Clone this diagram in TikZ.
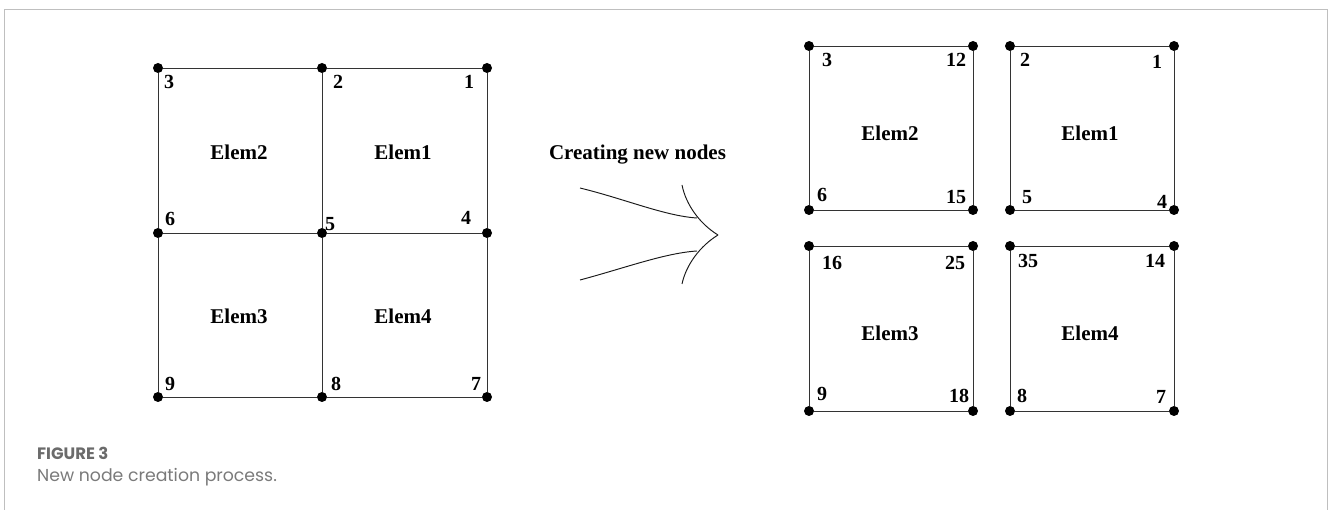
\documentclass[tikz,border=0pt]{standalone}
\usepackage{fontspec}
\setmainfont{Liberation Serif}
\newfontfamily\capfont{Poppins}
\begin{document}
\begin{tikzpicture}[x=1pt,y=-1pt,
  dot/.style={circle,fill=black,inner sep=0pt,minimum size=10pt},
  edge/.style={draw=black!80,line width=0.95pt},
  num/.style={font=\fontsize{20}{20}\selectfont\bfseries,inner sep=0pt},
  elem/.style={font=\fontsize{21}{21}\selectfont\bfseries,inner sep=0pt},
  curve/.style={draw=black!90,line width=0.95pt},
  frameline/.style={draw=black!25,line width=1pt}]
\useasboundingbox (0,0) rectangle (1328,510);
% frame
\coordinate (fbl) at (4,510);
\coordinate (ftl) at (4,9.5);
\coordinate (ftr) at (1327,9.5);
\coordinate (fbr) at (1327,510);
\draw[frameline] (fbl) -- (ftl) -- (ftr) -- (fbr);
% caption
\node[anchor=base west,inner sep=0pt,text=black!58,font=\capfont\fontsize{16.5}{17}\selectfont\bfseries] (figlab) at (37,459) {FIGURE 3};
\node[anchor=base west,inner sep=0pt,text=black!52,font=\capfont\fontsize{17.3}{18}\selectfont] (figcap) at (37,481) {New node creation process.};
% left mesh
\node[dot] (L1) at (487,68) {};
\node[dot] (L2) at (322,68) {};
\node[dot] (L3) at (158,68) {};
\node[dot] (L4) at (487,233) {};
\node[dot] (L5) at (322,233) {};
\node[dot] (L6) at (158,233) {};
\node[dot] (L7) at (487,397) {};
\node[dot] (L8) at (322,397) {};
\node[dot] (L9) at (158,397) {};
\draw[edge] (L3) -- (L2) (L2) -- (L1);
\draw[edge] (L6) -- (L5) (L5) -- (L4);
\draw[edge] (L9) -- (L8) (L8) -- (L7);
\draw[edge] (L3) -- (L6) (L6) -- (L9);
\draw[edge] (L2) -- (L5) (L5) -- (L8);
\draw[edge] (L1) -- (L4) (L4) -- (L7);
\node[num] (n3) at (169,82) {3};
\node[num] (n2) at (338,82) {2};
\node[num] (n1) at (469,82) {1};
\node[num] (n6) at (170,219) {6};
\node[num] (n5) at (330,224) {5};
\node[num] (n4) at (466,218) {4};
\node[num] (n9) at (170,384) {9};
\node[num] (n8) at (336,384) {8};
\node[num] (n7) at (476,384) {7};
\node[elem] (e2) at (239,152) {Elem2};
\node[elem] (e1) at (403,152) {Elem1};
\node[elem] (e3) at (239,316) {Elem3};
\node[elem] (e4) at (403,316) {Elem4};
% arrow
\node[elem,anchor=base] (title) at (637.5,160) {Creating new nodes};
\coordinate (ua) at (580,188);
\coordinate (ub) at (697,218);
\coordinate (la) at (580,280);
\coordinate (lb) at (697,251);
\coordinate (ht) at (682,185);
\coordinate (tip) at (718,235);
\coordinate (hb) at (682,284);
\draw[curve] (ua) .. controls (625,199) and (665,216) .. (ub);
\draw[curve] (la) .. controls (625,268) and (665,253) .. (lb);
\draw[curve] (ht) .. controls (686,205) and (700,224) .. (tip);
\draw[curve] (tip) .. controls (700,246) and (686,265) .. (hb);
% right: box Elem2
\node[dot] (A1) at (809,46) {};
\node[dot] (A2) at (973,46) {};
\node[dot] (A3) at (973,210) {};
\node[dot] (A4) at (809,210) {};
\draw[edge] (A1) -- (A2) (A2) -- (A3) (A3) -- (A4) (A4) -- (A1);
% box Elem1
\node[dot] (B1) at (1010,46) {};
\node[dot] (B2) at (1174,46) {};
\node[dot] (B3) at (1174,210) {};
\node[dot] (B4) at (1010,210) {};
\draw[edge] (B1) -- (B2) (B2) -- (B3) (B3) -- (B4) (B4) -- (B1);
% box Elem3
\node[dot] (C1) at (809,246) {};
\node[dot] (C2) at (973,246) {};
\node[dot] (C3) at (973,411) {};
\node[dot] (C4) at (809,411) {};
\draw[edge] (C1) -- (C2) (C2) -- (C3) (C3) -- (C4) (C4) -- (C1);
% box Elem4
\node[dot] (D1) at (1010,246) {};
\node[dot] (D2) at (1174,246) {};
\node[dot] (D3) at (1174,411) {};
\node[dot] (D4) at (1010,411) {};
\draw[edge] (D1) -- (D2) (D2) -- (D3) (D3) -- (D4) (D4) -- (D1);
% right labels
\node[num] (r3) at (827,60) {3};
\node[num] (r12) at (956,60) {12};
\node[num] (r6) at (822,195) {6};
\node[num] (r15) at (956,197) {15};
\node[num] (r2) at (1025,60) {2};
\node[num] (r1) at (1157,62) {1};
\node[num] (r5) at (1027,197) {5};
\node[num] (r4) at (1162,202) {4};
\node[num] (r16) at (832,263) {16};
\node[num] (r25) at (955,263) {25};
\node[num] (r9) at (822,394) {9};
\node[num] (r18) at (959,396) {18};
\node[num] (r35) at (1028,261) {35};
\node[num] (r14) at (1155,261) {14};
\node[num] (r8) at (1022,396) {8};
\node[num] (r7) at (1161,397) {7};
\node[elem] (re2) at (890,133) {Elem2};
\node[elem] (re1) at (1090,133) {Elem1};
\node[elem] (re3) at (890,333) {Elem3};
\node[elem] (re4) at (1090,333) {Elem4};
\end{tikzpicture}
\end{document}
